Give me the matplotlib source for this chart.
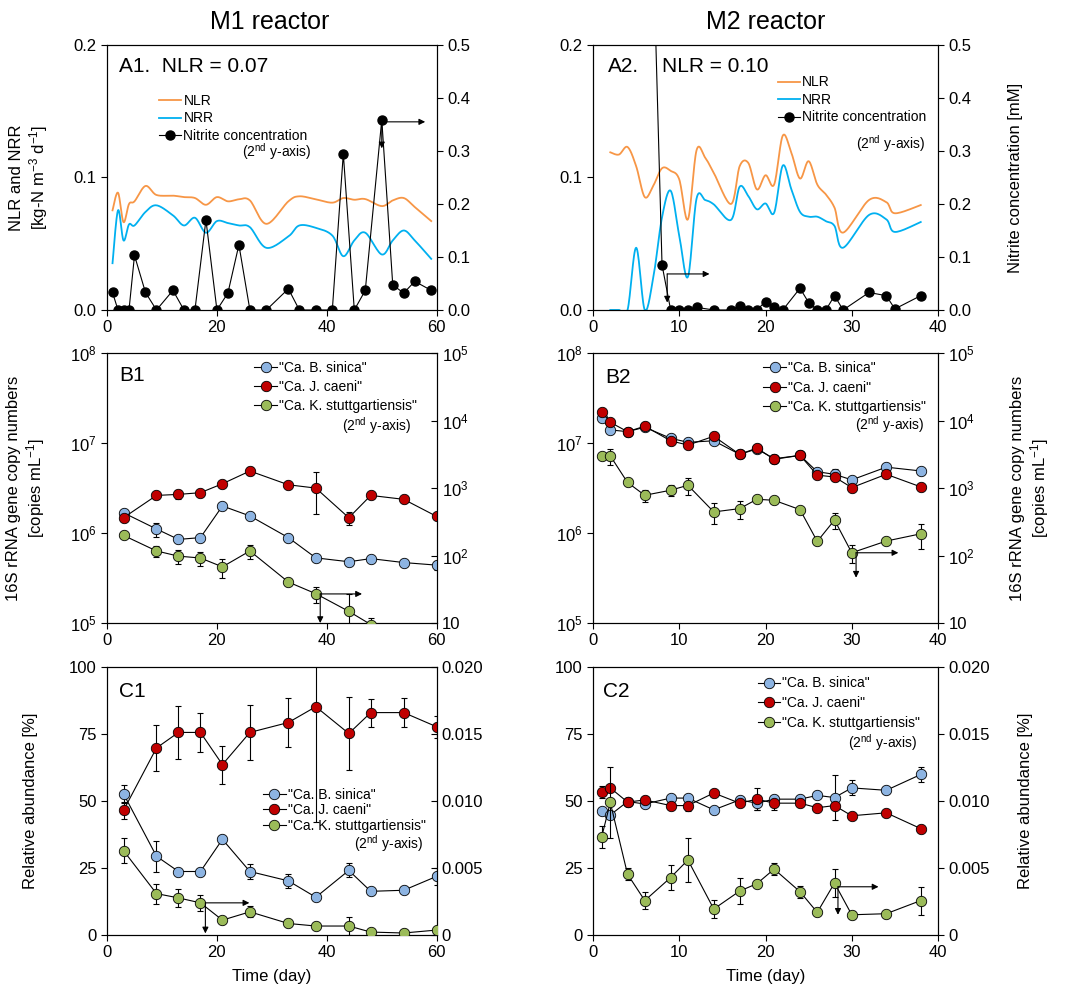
import numpy as np
import matplotlib
matplotlib.use('Agg')
import matplotlib.pyplot as plt
from matplotlib.lines import Line2D
from matplotlib.ticker import FixedLocator, FixedFormatter, NullLocator

plt.rcParams['font.family'] = ['Liberation Sans', 'DejaVu Sans']
plt.rcParams['mathtext.fontset'] = 'custom'
plt.rcParams['mathtext.rm'] = 'Liberation Sans'
plt.rcParams['mathtext.it'] = 'Liberation Sans:italic'
plt.rcParams['mathtext.bf'] = 'Liberation Sans:bold'
plt.rcParams['font.size'] = 11

# ---------------- data: panel A (M1) ----------------
day_a1 = [1, 2, 3, 4, 5, 7, 9, 12, 14, 16, 18, 20, 22, 24, 26, 29, 33, 35, 38, 41,
          43, 45, 47, 50, 52, 54, 56, 59]
nlr_a1 = [0.0752, 0.0885, 0.0663, 0.080, 0.082, 0.0936, 0.0868, 0.0863, 0.0852, 0.0845,
          0.0794, 0.0852, 0.082, 0.0835, 0.0827, 0.065, 0.082, 0.0858, 0.0835, 0.081,
          0.0845, 0.0832, 0.0837, 0.0784, 0.0827, 0.0845, 0.0777, 0.0671]
nrr_a1 = [0.0353, 0.0752, 0.0525, 0.0646, 0.0638, 0.074, 0.079, 0.0714, 0.0638, 0.0696,
          0.0583, 0.0671, 0.0656, 0.0638, 0.0625, 0.0469, 0.0555, 0.0638, 0.062, 0.0562,
          0.0406, 0.0525, 0.0583, 0.0419, 0.0525, 0.060, 0.0525, 0.0386]
nit_a1 = [0.033, 0, 0, 0, 0.103, 0.033, 0, 0.037, 0, 0, 0.170, 0, 0.032, 0.123, 0, 0,
          0.040, 0, 0, 0, 0.295, 0, 0.037, 0.359, 0.047, 0.032, 0.054, 0.037]

# ---------------- data: panel A (M2) ----------------
day_a2 = [2, 3, 4, 5, 6, 7, 8, 9, 10, 11, 12, 13, 14, 16, 17, 18, 19, 20, 21, 22, 23,
          24, 25, 26, 27, 28, 29, 32, 34, 35, 38]
nlr_a2 = [0.119, 0.1173, 0.123, 0.1085, 0.0852, 0.094, 0.107, 0.105, 0.0985, 0.0684,
          0.1205, 0.115, 0.1035, 0.080, 0.1085, 0.111, 0.091, 0.1017, 0.0947, 0.1316,
          0.1185, 0.0992, 0.1123, 0.0947, 0.0872, 0.0772, 0.0584, 0.083, 0.0814, 0.073,
          0.0792]
nrr_a2 = [0, 0, 0, 0.047, 0, 0.025, 0.07, 0.09, 0.056, 0.025, 0.084, 0.083, 0.0797,
          0.068, 0.093, 0.086, 0.076, 0.0804, 0.0734, 0.109, 0.091, 0.074, 0.0704, 0.0704,
          0.067, 0.0634, 0.047, 0.0717, 0.0684, 0.0589, 0.0664]
day_nit_a2 = [7, 8, 9, 10, 11, 12, 14, 16, 17, 18, 19, 20, 21, 22, 24, 25, 26, 27, 28,
              29, 32, 34, 35, 38]
nit_a2 = [0.67, 0.085, 0, 0, 0, 0.005, 0, 0, 0.008, 0, 0, 0.016, 0.005, 0, 0.041, 0.014,
          0, 0, 0.027, 0, 0.033, 0.027, 0.002, 0.027]

# ---------------- data: panel B (copy numbers) ----------------
day_b1 = [3, 9, 13, 17, 21, 26, 33, 38, 44, 48, 54, 60]
bro_b1 = [1.68e6, 1.11e6, 8.5e5, 8.9e5, 2.0e6, 1.55e6, 8.9e5, 5.3e5, 4.8e5, 5.2e5, 4.7e5, 4.4e5]
bro_b1_err = [0.5e5, 2e5, 0.5e5, 0.5e5, 1e5, 1e5, 0.5e5, 0.3e5, 0.3e5, 0.3e5, 0.3e5, 0.5e5]
jet_b1 = [1.48e6, 2.62e6, 2.69e6, 2.81e6, 3.53e6, 4.89e6, 3.44e6, 3.16e6, 1.48e6, 2.62e6, 2.37e6, 1.53e6]
jet_b1_err = [1e5, 2e5, 3e5, 2e5, 2e5, 5e5, 2e5, 1.55e6, 2.5e5, 1.5e5, 1e5, 1e5]
kue_b1 = [199, 117, 98, 92, 68, 117, 40.5, 27.2, 14.9, 9.5]
kue_b1_err = [10, 23, 22, 22, 22, 27, 3, 7.5, 12, 2.5]

day_b2 = [1, 2, 4, 6, 9, 11, 14, 17, 19, 21, 24, 26, 28, 30, 34, 38]
bro_b2 = [1.9e7, 1.4e7, 1.34e7, 1.5e7, 1.13e7, 1.02e7, 1.06e7, 7.5e6, 8.6e6, 6.7e6,
          7.3e6, 4.8e6, 4.5e6, 3.9e6, 5.4e6, 4.9e6]
bro_b2_err = [1e6, 5e5, 5e5, 5e5, 5e5, 5e5, 5e5, 3e5, 3e5, 3e5, 3e5, 3e5, 7e5, 3e5, 3e5, 3e5]
jet_b2 = [2.23e7, 1.7e7, 1.34e7, 1.54e7, 1.06e7, 9.5e6, 1.19e7, 7.5e6, 8.8e6, 6.6e6,
          7.3e6, 4.4e6, 4.2e6, 3.2e6, 4.5e6, 3.26e6]
jet_b2_err = [1e6, 5e5, 5e5, 5e5, 5e5, 5e5, 5e5, 3e5, 3e5, 3e5, 3e5, 3e5, 3e5, 2e5, 2e5, 2e5]
kue_b2 = [3000, 3000, 1210, 782, 929, 1100, 443, 496, 682, 659, 479, 162, 336, 110, 164, 210]
kue_b2_err = [300, 800, 100, 160, 170, 320, 150, 145, 30, 30, 30, 10, 90, 32, 10, 87]

# ---------------- data: panel C (relative abundance) ----------------
bro_c1 = [52.7, 29.4, 23.7, 23.7, 35.7, 23.7, 20.2, 14.1, 24.1, 16.3, 16.7, 21.9]
bro_c1_err = [3.4, 5.8, 1, 1, 1, 2.8, 2.6, 1, 2.6, 1, 1, 3.1]
jet_c1 = [46.5, 69.8, 75.6, 75.6, 63.6, 75.6, 79.3, 85.2, 75.2, 83.0, 83.0, 77.7]
jet_c1_err = [3.3, 8.5, 9.9, 7.2, 7.1, 10.4, 9.1, 43, 13.8, 5.2, 5.3, 4.2]
kue_c1 = [0.0063, 0.00309, 0.00277, 0.0024, 0.00111, 0.00173, 0.00086, 0.00067,
          0.00067, 0.00022, 0.00015, 0.00037]
kue_c1_err = [0.00096, 0.00074, 0.00066, 0.00062, 0.0002, 0.00042, 0.0001, 0.0001,
              0.00066, 0.0001, 0.0001, 0.0001]

bro_c2 = [46.3, 44.8, 49.8, 48.9, 51.1, 51.1, 46.7, 50.4, 49.2, 50.7, 50.7, 52.1, 51.3,
          54.9, 54.0, 59.9]
bro_c2_err = [1, 1, 1, 1, 1, 1, 1, 1, 2.5, 1, 1, 1, 8.5, 2.8, 1, 2.8]
jet_c2 = [53.3, 54.9, 49.6, 50.4, 48.3, 48.3, 53.0, 49.2, 50.7, 49.2, 49.2, 47.5, 48.3,
          44.5, 45.6, 39.7]
jet_c2_err = [2.3, 1, 1, 1, 1, 2.2, 1, 1, 4.2, 2.5, 1, 1, 1, 1, 1, 1]
kue_c2 = [0.00731, 0.00989, 0.00454, 0.00257, 0.00429, 0.0056, 0.00194, 0.00328,
          0.00383, 0.00492, 0.00323, 0.00169, 0.00388, 0.00151, 0.00159, 0.00257]
kue_c2_err = [0.0008, 0.00268, 0.00044, 0.00064, 0.00092, 0.00164, 0.0007, 0.001,
              0.0001, 0.00046, 0.00044, 0.0001, 0.00104, 0.0003, 0.0001, 0.00104]

names = ['"Ca. B. sinica"', '"Ca. J. caeni"', '"Ca. K. stuttgartiensis"']
col_bro, col_jet, col_kue = '#8DB4E2', '#C00000', '#9BBB59'
col_nlr, col_nrr = '#F79646', '#00B0F0'
note = '(2$^{\\mathrm{nd}}$ y-axis)'


# Excel-like smoothed line (Catmull-Rom through the points)
def smooth(x, y, n=16):
    x = np.asarray(x, float)
    y = np.asarray(y, float)
    px = np.r_[x[0], x, x[-1]]
    py = np.r_[y[0], y, y[-1]]
    t = np.linspace(0, 1, n, endpoint=False)
    xs, ys = [], []
    for i in range(1, len(x)):
        for p, out in ((px, xs), (py, ys)):
            p0, p1, p2, p3 = p[i - 1], p[i], p[i + 1], p[i + 2]
            out.extend(0.5 * (2 * p1 + (-p0 + p2) * t + (2 * p0 - 5 * p1 + 4 * p2 - p3) * t ** 2
                              + (-p0 + 3 * p1 - 3 * p2 + p3) * t ** 3))
    xs.append(x[-1])
    ys.append(y[-1])
    return np.array(xs), np.array(ys)


def series(ax, x, y, err, color):
    if err is not None:
        ax.errorbar(x, y, yerr=err, fmt='none', ecolor='k', elinewidth=0.8,
                    capsize=2.5, capthick=0.8, zorder=2)
    ax.plot(x, y, '-', color='k', lw=0.8, marker='o', ms=7.5, mfc=color,
            mec='k', mew=0.6, zorder=3)


def arrows(ax, x0, y0, x1, y1):
    kw = dict(arrowstyle='-|>', color='k', lw=0.8, mutation_scale=9, shrinkA=0, shrinkB=0)
    ax.annotate('', xy=(x1, y0), xytext=(x0, y0), arrowprops=kw)
    ax.annotate('', xy=(x0, y1), xytext=(x0, y0), arrowprops=kw)


def frame(ax, ax2, xmax, xstep):
    ax.set_xlim(0, xmax)
    ax.set_xticks(np.arange(0, xmax + 1, xstep))
    for a in (ax, ax2):
        a.tick_params(labelsize=12, width=0.8, length=4, direction='out')
        for s in a.spines.values():
            s.set_linewidth(0.8)
    ax.patch.set_visible(False)


def legend(ax, handles, labels, anchor, spacing, note_xy):
    ax.legend(handles, labels, loc='upper left', bbox_to_anchor=anchor, frameon=False,
              fontsize=10, borderpad=0, borderaxespad=0, handlelength=1.6,
              handletextpad=0.15, labelspacing=spacing)
    ax.text(note_xy[0], note_xy[1], note, transform=ax.transAxes,
            ha='right', va='center', fontsize=10)


def sp_handles():
    return [Line2D([], [], color='k', lw=0.8, marker='o', ms=7.5, mfc=c, mec='k', mew=0.6)
            for c in (col_bro, col_jet, col_kue)]


fig = plt.figure(figsize=(10.67, 9.91), dpi=100)
left_col = (0.1003, 0.309)
right_col = (0.5558, 0.3233)
rows = [(0.6872, 0.2674), (0.3713, 0.2724), (0.0565, 0.2704)]

fig.text(0.253, 0.978, 'M1 reactor', ha='center', va='center', fontsize=18)
fig.text(0.718, 0.978, 'M2 reactor', ha='center', va='center', fontsize=18)

# ---------------- A1 ----------------
ax = fig.add_axes([left_col[0], rows[0][0], left_col[1], rows[0][1]])
ax2 = ax.twinx()
ax.plot(*smooth(day_a1, nlr_a1), color=col_nlr, lw=1.3)
ax.plot(*smooth(day_a1, nrr_a1), color=col_nrr, lw=1.3)
ax2.plot(day_a1, nit_a1, '-', color='k', lw=0.8, marker='o', ms=6.5, mfc='k', mec='k')
ax.set_ylim(0, 0.2)
ax.set_yticks([0, 0.1, 0.2], ['0.0', '0.1', '0.2'])
ax2.set_ylim(0, 0.5)
ax2.set_yticks(np.arange(0, 0.51, 0.1), ['0.0', '0.1', '0.2', '0.3', '0.4', '0.5'])
frame(ax, ax2, 60, 20)
ax.set_ylabel('NLR and NRR\n[kg-N m$^{-3}$ d$^{-1}$]', fontsize=12, linespacing=1.2)
ax.yaxis.set_label_coords(-0.173, 0.5)
ax.text(0.036, 0.917, 'A1.  NLR = 0.07', transform=ax.transAxes, fontsize=15,
        ha='left', va='center')
arrows(ax2, day_a1[23], 0.355, 57.9, 0.305)
hA = [Line2D([], [], color=col_nlr, lw=1.3), Line2D([], [], color=col_nrr, lw=1.3),
      Line2D([], [], color='k', lw=0.8, marker='o', ms=6.5, mfc='k', mec='k')]
legend(ax2, hA, ['NLR', 'NRR', 'Nitrite concentration'], (0.158, 0.815), 0.25, (0.62, 0.598))

# ---------------- A2 ----------------
ax = fig.add_axes([right_col[0], rows[0][0], right_col[1], rows[0][1]])
ax2 = ax.twinx()
ax.plot(*smooth(day_a2, nlr_a2), color=col_nlr, lw=1.3)
ax.plot(*smooth(day_a2, nrr_a2), color=col_nrr, lw=1.3)
ax2.plot(day_nit_a2, nit_a2, '-', color='k', lw=0.8, marker='o', ms=6.5, mfc='k', mec='k')
ax.set_ylim(0, 0.2)
ax.set_yticks([0, 0.1, 0.2], ['0.0', '0.1', '0.2'])
ax2.set_ylim(0, 0.5)
ax2.set_yticks(np.arange(0, 0.51, 0.1), ['0.0', '0.1', '0.2', '0.3', '0.4', '0.5'])
frame(ax, ax2, 40, 10)
ax2.set_ylabel('Nitrite concentration [mM]', fontsize=12)
ax2.yaxis.set_label_coords(1.203, 0.5)
ax.text(0.043, 0.917, 'A2.', transform=ax.transAxes, fontsize=15, ha='left', va='center')
ax.text(0.2, 0.917, 'NLR = 0.10', transform=ax.transAxes, fontsize=15, ha='left', va='center')
arrows(ax2, 8.6, 0.068, 13.5, 0.014)
legend(ax2, hA, ['NLR', 'NRR', 'Nitrite concentration'], (0.536, 0.885), 0.25, (0.965, 0.628))

# ---------------- B panels ----------------
left_logs = [1e5, 1e6, 1e7, 1e8]
left_labs = ['10$^5$', '10$^6$', '10$^7$', '10$^8$']
right_logs = [10, 1e2, 1e3, 1e4, 1e5]
right_labs = ['10', '10$^2$', '10$^3$', '10$^4$', '10$^5$']

for k, (col, dayb, bro, broe, jet, jete, kue, kuee) in enumerate([
        (left_col, day_b1, bro_b1, bro_b1_err, jet_b1, jet_b1_err, kue_b1, kue_b1_err),
        (right_col, day_b2, bro_b2, bro_b2_err, jet_b2, jet_b2_err, kue_b2, kue_b2_err)]):
    ax = fig.add_axes([col[0], rows[1][0], col[1], rows[1][1]])
    ax2 = ax.twinx()
    ax.set_yscale('log')
    ax2.set_yscale('log')
    series(ax, dayb, bro, broe, col_bro)
    series(ax, dayb, jet, jete, col_jet)
    series(ax2, dayb[:len(kue)], kue, kuee, col_kue)
    ax.set_ylim(1e5, 1e8)
    ax2.set_ylim(10, 1e5)
    ax.yaxis.set_major_locator(FixedLocator(left_logs))
    ax.yaxis.set_major_formatter(FixedFormatter(left_labs))
    ax.yaxis.set_minor_locator(NullLocator())
    ax2.yaxis.set_major_locator(FixedLocator(right_logs))
    ax2.yaxis.set_major_formatter(FixedFormatter(right_labs))
    ax2.yaxis.set_minor_locator(NullLocator())
    label = '16S rRNA gene copy numbers\n[copies mL$^{-1}$]'
    if k == 0:
        frame(ax, ax2, 60, 20)
        ax2.tick_params(axis='y', direction='in')
        ax.set_ylabel(label, fontsize=12, linespacing=1.2)
        ax.yaxis.set_label_coords(-0.182, 0.5)
        ax.text(0.036, 0.918, 'B1', transform=ax.transAxes, fontsize=15, va='center')
        arrows(ax2, 38.8, 27, 46.4, 10)
        legend(ax2, sp_handles(), names, (0.447, 0.972), 0.38, (0.924, 0.733))
    else:
        frame(ax, ax2, 40, 10)
        ax2.set_ylabel(label, fontsize=12, linespacing=1.2)
        ax2.yaxis.set_label_coords(1.209, 0.5)
        ax.text(0.035, 0.91, 'B2', transform=ax.transAxes, fontsize=15, va='center')
        arrows(ax2, 30.5, 110, 35.4, 47)
        legend(ax2, sp_handles(), names, (0.494, 0.97), 0.4, (0.96, 0.736))

# ---------------- C panels ----------------
for k, (col, dayc, bro, broe, jet, jete, kue, kuee) in enumerate([
        (left_col, day_b1, bro_c1, bro_c1_err, jet_c1, jet_c1_err, kue_c1, kue_c1_err),
        (right_col, day_b2, bro_c2, bro_c2_err, jet_c2, jet_c2_err, kue_c2, kue_c2_err)]):
    ax = fig.add_axes([col[0], rows[2][0], col[1], rows[2][1]])
    ax2 = ax.twinx()
    series(ax, dayc, bro, broe, col_bro)
    series(ax, dayc, jet, jete, col_jet)
    series(ax2, dayc, kue, kuee, col_kue)
    ax.set_ylim(0, 100)
    ax.set_yticks([0, 25, 50, 75, 100])
    ax2.set_ylim(0, 0.02)
    ax2.set_yticks([0, 0.005, 0.01, 0.015, 0.02], ['0', '0.005', '0.010', '0.015', '0.020'])
    ax.set_xlabel('Time (day)', fontsize=12)
    ax.xaxis.set_label_coords(0.5, -0.125)
    if k == 0:
        frame(ax, ax2, 60, 20)
        ax2.tick_params(axis='y', direction='in')
        ax.set_ylabel('Relative abundance [%]', fontsize=12)
        ax.yaxis.set_label_coords(-0.208, 0.5)
        ax.text(0.036, 0.907, 'C1', transform=ax.transAxes, fontsize=15, va='center')
        arrows(ax2, 17.9, 0.0024, 25.9, 0.00012)
        legend(ax2, sp_handles(), names, (0.474, 0.55), 0.12, (0.961, 0.34))
    else:
        frame(ax, ax2, 40, 10)
        ax2.set_ylabel('Relative abundance [%]', fontsize=12)
        ax2.yaxis.set_label_coords(1.232, 0.5)
        ax.text(0.03, 0.907, 'C2', transform=ax.transAxes, fontsize=15, va='center')
        arrows(ax2, 28.4, 0.0036, 33.1, 0.00151)
        legend(ax2, sp_handles(), names, (0.478, 0.965), 0.42, (0.942, 0.72))

fig.savefig('out.png', dpi=100)
